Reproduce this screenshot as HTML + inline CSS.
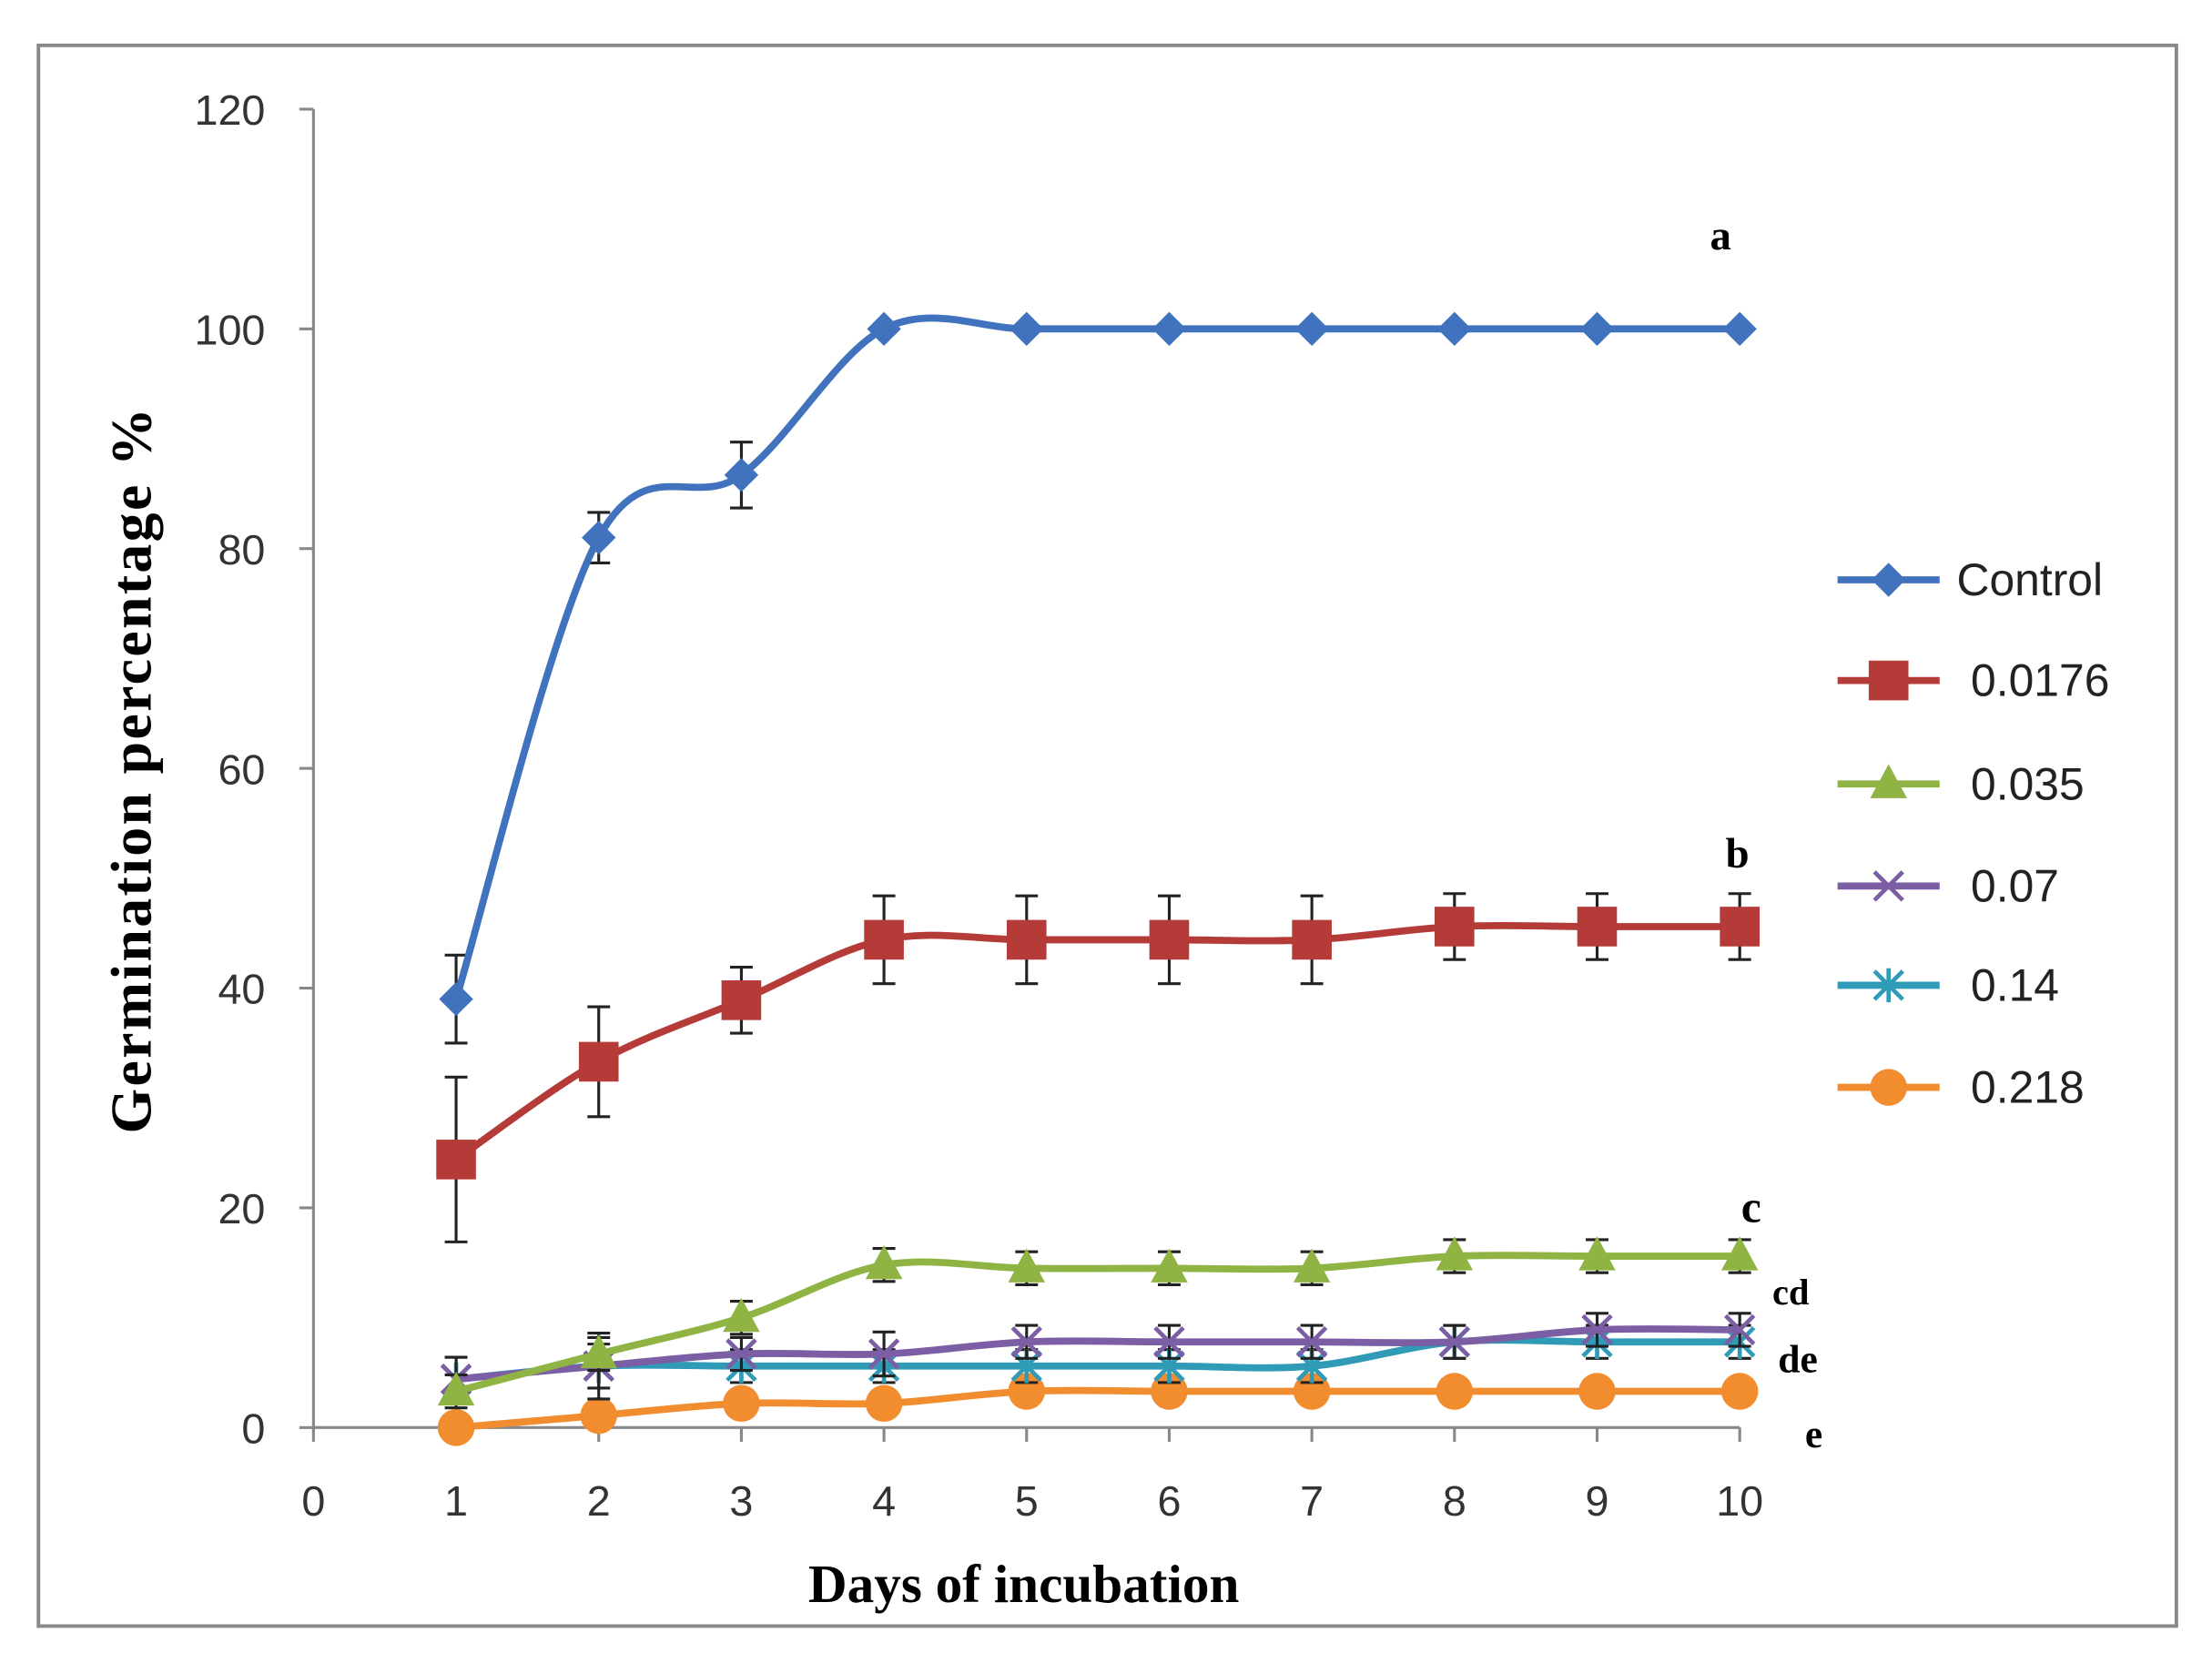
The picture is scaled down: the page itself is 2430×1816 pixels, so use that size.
<!DOCTYPE html>
<html><head><meta charset="utf-8"><style>
html,body{margin:0;padding:0;background:#fff}
svg{display:block}
text{font-family:"Liberation Sans",sans-serif}
text.serif{font-family:"Liberation Serif",serif;font-weight:bold}
</style></head><body>
<svg id="chart" width="2430" height="1816" viewBox="0 0 1560 1166" xmlns="http://www.w3.org/2000/svg">
<rect x="27" y="32" width="1508" height="1115" fill="#fff" stroke="#888" stroke-width="2.5"/>
<g id="axes"></g>
<g id="series"></g>
<g id="legend"></g>
<text class="serif" font-size="41" letter-spacing="1.5" text-anchor="middle" transform="translate(106,543) rotate(-90)">Germination  percentage %</text>
<text class="serif" font-size="38" text-anchor="middle" x="722" y="1130">Days of incubation</text>
<g font-size="30">
<text class="serif" x="1206" y="176">a</text>
<text class="serif" x="1217" y="612">b</text>
<text class="serif" x="1228" y="862" font-size="32">c</text>
<text class="serif" x="1250" y="920" font-size="26">cd</text>
<text class="serif" x="1254" y="968" font-size="28">de</text>
<text class="serif" x="1273" y="1021" font-size="28">e</text>
</g>
</svg>
<script>
const days=[1,2,3,4,5,6,7,8,9,10];
const xTicks=[0,1,2,3,4,5,6,7,8,9,10];
const yTicks=[0,20,40,60,80,100,120];
const seriesNames=["Control","0.0176","0.035","0.07","0.14","0.218"];
const controlVals=[39,81,86.7,100,100,100,100,100,100,100];
const controlErr=[4,2.3,3,0,0,0,0,0,0,0];
const s0176Vals=[24.4,33.3,38.9,44.4,44.4,44.4,44.4,45.6,45.6,45.6];
const s0176Err=[7.5,5,3,4,4,4,4,3,3,3];
const s035Vals=[3.3,6.7,10,14.8,14.5,14.5,14.5,15.6,15.6,15.6];
const s035Err=[1.5,1.5,1.5,1.5,1.5,1.5,1.5,1.5,1.5,1.5];
const s07Vals=[4.4,5.6,6.7,6.7,7.8,7.8,7.8,7.8,8.9,8.9];
const s07Err=[2,2,1.5,2,1.5,1.5,1.5,1.5,1.5,1.5];
const s14Vals=[4.4,5.6,5.6,5.6,5.6,5.6,5.6,7.8,7.8,7.8];
const s14Err=[2,3,1.5,1.5,1.5,1.5,1.5,1.5,1.5,1.5];
const s218Vals=[0,1.1,2.2,2.2,3.3,3.3,3.3,3.3,3.3,3.3];
const s218Err=[0,0,0,0,0,0,0,0,0,0];

const NS="http://www.w3.org/2000/svg";
const X=v=>221+v*100.6;
const Y=v=>1007-v*7.75;
function mk(tag,attrs,parent){const e=document.createElementNS(NS,tag);for(const k in attrs)e.setAttribute(k,attrs[k]);parent.appendChild(e);return e;}
const axes=document.getElementById('axes');
let yl=mk('line',{x1:X(0),y1:Y(0),x2:X(0),y2:Y(120),stroke:'#888','stroke-width':2},axes);


let xl=mk('line',{x1:X(0),y1:Y(0),x2:X(10),y2:Y(0),stroke:'#888','stroke-width':2},axes);


yTicks.forEach(t=>{
 mk('line',{x1:X(0)-10,y1:Y(t),x2:X(0),y2:Y(t),stroke:'#888','stroke-width':2},axes);
 const tx=mk('text',{x:X(0)-34,y:Y(t)+11,'font-size':30,'text-anchor':'end',fill:'#333'},axes);
 tx.textContent=t;
 
 
});
xTicks.forEach(t=>{
 mk('line',{x1:X(t),y1:Y(0),x2:X(t),y2:Y(0)+10,stroke:'#888','stroke-width':2},axes);
 const tx=mk('text',{x:X(t),y:Y(0)+62,'font-size':30,'text-anchor':'middle',fill:'#333'},axes);
 tx.textContent=t;
 
 
});
function spline(pts){
 let d=`M${pts[0][0]},${pts[0][1]}`;
 for(let i=0;i<pts.length-1;i++){
  const p0=pts[i-1]||pts[i],p1=pts[i],p2=pts[i+1],p3=pts[i+2]||p2;
  const t=1/6;
  d+=` C${p1[0]+(p2[0]-p0[0])*t},${p1[1]+(p2[1]-p0[1])*t} ${p2[0]-(p3[0]-p1[0])*t},${p2[1]-(p3[1]-p1[1])*t} ${p2[0]},${p2[1]}`;
 }
 return d;
}
function marker(type,x,y,col,g){
 if(type==='diamond')return mk('polygon',{points:`${x},${y-12} ${x+12},${y} ${x},${y+12} ${x-12},${y}`,fill:col},g);
 if(type==='square')return mk('rect',{x:x-14,y:y-14,width:28,height:28,fill:col},g);
 if(type==='triangle')return mk('polygon',{points:`${x},${y-14} ${x+13},${y+10} ${x-13},${y+10}`,fill:col},g);
 if(type==='circle')return mk('circle',{cx:x,cy:y,r:13,fill:col},g);
 if(type==='x')return mk('path',{d:`M${x-10},${y-10}L${x+10},${y+10}M${x+10},${y-10}L${x-10},${y+10}`,stroke:col,'stroke-width':3,fill:'none'},g);
 if(type==='star')return mk('path',{d:`M${x-10},${y-10}L${x+10},${y+10}M${x+10},${y-10}L${x-10},${y+10}M${x},${y-12}L${x},${y+12}`,stroke:col,'stroke-width':3,fill:'none'},g);
}
const defs=[
 {vals:controlVals,err:controlErr,col:'#4172bd',m:'diamond',key:'control'},
 {vals:s0176Vals,err:s0176Err,col:'#b53b38',m:'square',key:'0-0176'},
 {vals:s035Vals,err:s035Err,col:'#8fb443',m:'triangle',key:'0-035'},
 {vals:s07Vals,err:s07Err,col:'#7b5ea3',m:'x',key:'0-07'},
 {vals:s14Vals,err:s14Err,col:'#2f9bb7',m:'star',key:'0-14'},
 {vals:s218Vals,err:s218Err,col:'#f18c2f',m:'circle',key:'0-218'}
];
const sg=document.getElementById('series');
defs.slice().reverse().forEach(s=>{
 const g=mk('g',{},sg);
 
 
 days.forEach((d,i)=>{
  if(s.err[i]>0){
   const x=X(d),y1=Y(s.vals[i]+s.err[i]),y2=Y(s.vals[i]-s.err[i]);
   const eb=mk('path',{d:`M${x},${y1}L${x},${y2}M${x-8},${y1}L${x+8},${y1}M${x-8},${y2}L${x+8},${y2}`,stroke:'#222','stroke-width':2,fill:'none'},g);
   
   
  }
 });
 const pts=days.map((d,i)=>[X(d),Y(s.vals[i])]);
 const ln=mk('path',{d:spline(pts),stroke:s.col,'stroke-width':5,fill:'none'},g);
 
 
 pts.forEach(p=>{
  const mm=marker(s.m,p[0],p[1],s.col,g);
  
  
 });
});
const lg=document.getElementById('legend');
const legY=[409,480,553,625,695,767];
defs.forEach((s,i)=>{
 const g=mk('g',{},lg);
 
 
 mk('line',{x1:1296,y1:legY[i],x2:1368,y2:legY[i],stroke:s.col,'stroke-width':5},g);
 marker(s.m,1332,legY[i],s.col,g);
 const t=mk('text',{x:i===0?1380:1390,y:legY[i]+11,'font-size':32,fill:'#222'},g);
 t.textContent=seriesNames[i];
});
</script>
</body></html>
